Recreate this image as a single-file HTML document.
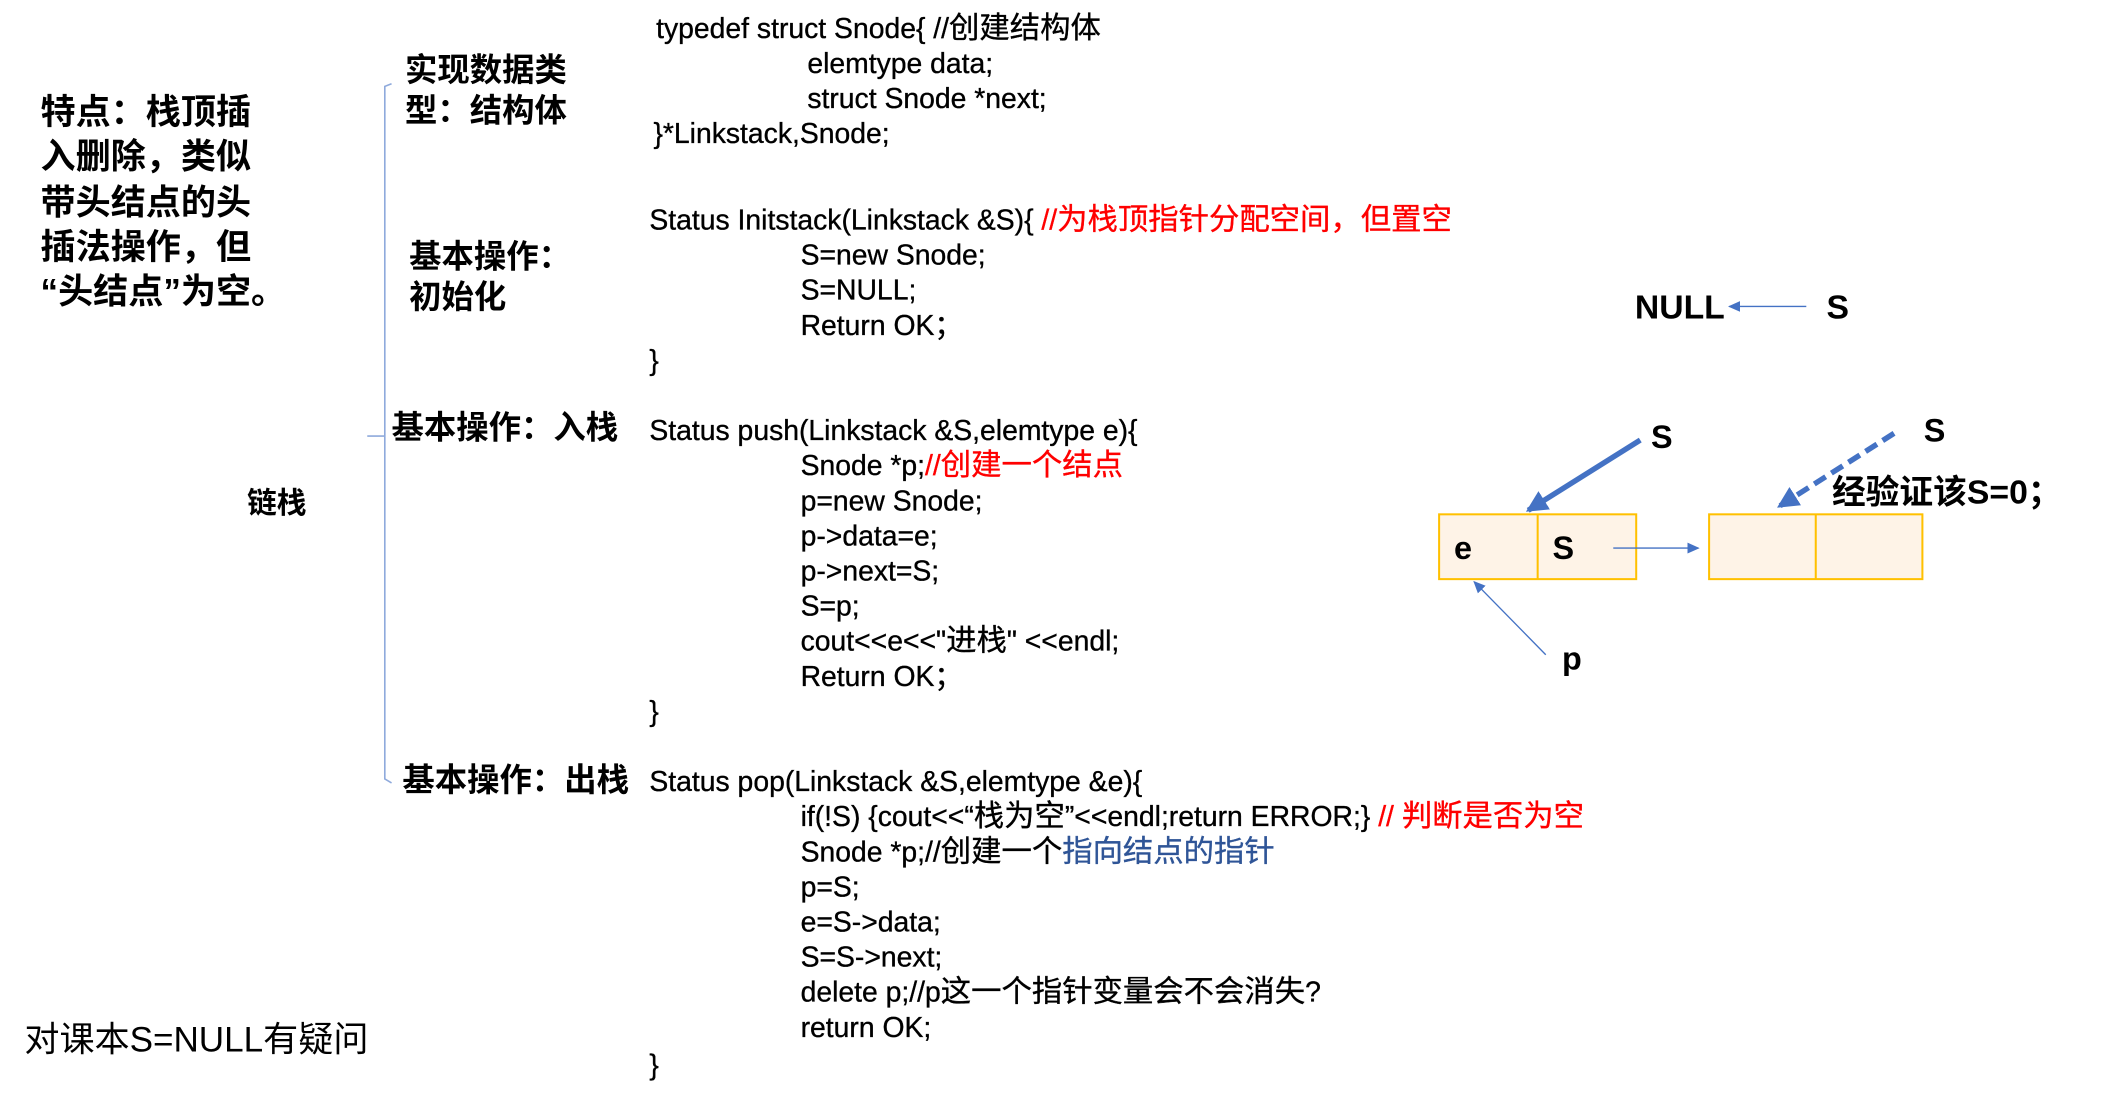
<!DOCTYPE html>
<html><head><meta charset="utf-8"><style>
html,body{margin:0;padding:0;background:#fff;}
svg{display:block;}
text{font-family:"Liberation Sans","Noto Sans CJK SC",sans-serif;fill:#000;}
.c{font-size:21px;stroke:#000;stroke-width:0.25px;}
.z{font-size:22.5px;}
.b{font-size:24px;font-weight:bold;}
.l{font-size:26px;font-weight:bold;}
.r{fill:#ff0000;stroke:#ff0000;}
.bl{fill:#2f5597;stroke:#2f5597;}
</style></head><body>
<svg width="2107" height="1094" viewBox="0 0 1560.7 810.4" xmlns="http://www.w3.org/2000/svg">
<defs>
<marker id="a" markerWidth="10" markerHeight="10" refX="8" refY="5" orient="auto" markerUnits="userSpaceOnUse"><path d="M0,1 L9,5 L0,9 Z" fill="#4472c4"/></marker>
<marker id="ab" markerWidth="20" markerHeight="20" refX="14" refY="8" orient="auto" markerUnits="userSpaceOnUse"><path d="M0,0 L16,8 L0,16 Z" fill="#4472c4"/></marker>
</defs>
<text class="l" x="30" y="92">特点：栈顶插</text>
<text class="l" x="30" y="125">入删除，类似</text>
<text class="l" x="30" y="159">带头结点的头</text>
<text class="l" x="30" y="192">插法操作，但</text>
<text class="l" x="30" y="225">“头结点”为空。</text>
<text x="183" y="380" style="font-weight:bold;font-size:22px">链栈</text>
<text x="18" y="779" style="font-size:26px">对课本S=NULL有疑问</text>
<path d="M290,62 L285,64 L285,577 L290,580 M285,323 L272,323" fill="none" stroke="#8faadc" stroke-width="1.2"/>
<text class="b" x="300" y="60">实现数据类</text>
<text class="b" x="300" y="90">型：结构体</text>
<text class="b" x="303" y="198">基本操作：</text>
<text class="b" x="303" y="228">初始化</text>
<text class="b" x="290" y="325">基本操作：入栈</text>
<text class="b" x="298" y="586">基本操作：出栈</text>
<text class="c" x="486" y="28">typedef struct Snode{ //<tspan class="z">创建结构体</tspan></text>
<text class="c" x="598" y="54">elemtype data;</text>
<text class="c" x="598" y="80">struct Snode *next;</text>
<text class="c" x="484" y="106">}*Linkstack,Snode;</text>
<text class="c" x="481" y="170">Status Initstack(Linkstack &amp;S){ <tspan class="r">//<tspan class="z">为栈顶指针分配空间，但置空</tspan></tspan></text>
<text class="c" x="593" y="196">S=new Snode;</text>
<text class="c" x="593" y="222">S=NULL;</text>
<text class="c" x="593" y="248">Return OK；</text>
<text class="c" x="481" y="274">}</text>
<text class="c" x="481" y="326">Status push(Linkstack &amp;S,elemtype e){</text>
<text class="c" x="593" y="352">Snode *p;<tspan class="r">//<tspan class="z">创建一个结点</tspan></tspan></text>
<text class="c" x="593" y="378">p=new Snode;</text>
<text class="c" x="593" y="404">p-&gt;data=e;</text>
<text class="c" x="593" y="430">p-&gt;next=S;</text>
<text class="c" x="593" y="456">S=p;</text>
<text class="c" x="593" y="482">cout&lt;&lt;e&lt;&lt;"<tspan class="z">进栈</tspan>" &lt;&lt;endl;</text>
<text class="c" x="593" y="508">Return OK；</text>
<text class="c" x="481" y="534">}</text>
<text class="c" x="481" y="586">Status pop(Linkstack &amp;S,elemtype &amp;e){</text>
<text class="c" x="593" y="612">if(!S) {cout&lt;&lt;“<tspan class="z">栈为空</tspan>”&lt;&lt;endl;return ERROR;} <tspan class="r">// <tspan class="z">判断是否为空</tspan></tspan></text>
<text class="c" x="593" y="638">Snode *p;//<tspan class="z">创建一个</tspan><tspan class="bl z">指向结点的指针</tspan></text>
<text class="c" x="593" y="664">p=S;</text>
<text class="c" x="593" y="690">e=S-&gt;data;</text>
<text class="c" x="593" y="716">S=S-&gt;next;</text>
<text class="c" x="593" y="742">delete p;//p<tspan class="z">这一个指针变量会不会消失</tspan>?</text>
<text class="c" x="593" y="768">return OK;</text>
<text class="c" x="481" y="796">}</text>
<g transform="translate(-5,-2)">
<text x="1216" y="238" style="font-size:25px;font-weight:bold">NULL</text>
<line x1="1343" y1="229" x2="1286" y2="229" stroke="#4472c4" stroke-width="1" marker-end="url(#a)"/>
<text x="1358" y="238" style="font-size:25px;font-weight:bold">S</text>
<rect x="1071" y="383" width="146" height="48" fill="#fef3e7" stroke="#ffc000" stroke-width="1.5"/>
<line x1="1144" y1="383" x2="1144" y2="431" stroke="#ffc000" stroke-width="1.5"/>
<rect x="1271" y="383" width="158" height="48" fill="#fef3e7" stroke="#ffc000" stroke-width="1.5"/>
<line x1="1350" y1="383" x2="1350" y2="431" stroke="#ffc000" stroke-width="1.5"/>
<text x="1082" y="416" style="font-size:24px;font-weight:bold">e</text>
<text x="1155" y="416" style="font-size:24px;font-weight:bold">S</text>
<line x1="1200" y1="408" x2="1263" y2="408" stroke="#4472c4" stroke-width="1" marker-end="url(#a)"/>
<line x1="1220" y1="328" x2="1137" y2="380" stroke="#4472c4" stroke-width="4" marker-end="url(#ab)"/>
<text x="1228" y="334" style="font-size:24px;font-weight:bold">S</text>
<line x1="1408" y1="323" x2="1323" y2="377" stroke="#4472c4" stroke-width="4" stroke-dasharray="10,5" marker-end="url(#ab)"/>
<text x="1430" y="329" style="font-size:24px;font-weight:bold">S</text>
<text x="1362" y="375" style="font-size:25px;font-weight:bold">经验证该S=0；</text>
<line x1="1150" y1="487" x2="1097" y2="433" stroke="#4472c4" stroke-width="1" marker-end="url(#a)"/>
<text x="1162" y="498" style="font-size:24px;font-weight:bold">p</text>
</g>
</svg>
</body></html>
